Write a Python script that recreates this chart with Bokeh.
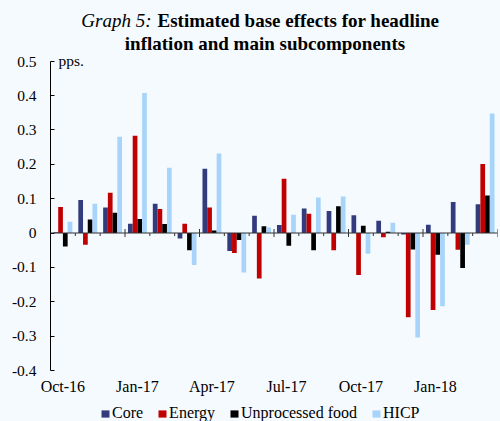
from bokeh.plotting import figure
from bokeh.models import (Range1d, FixedTicker, LinearAxis, Legend, LegendItem,
                          Label, CustomJSTickFormatter, ColumnDataSource, Span)
from bokeh.layouts import column
from bokeh.embed import file_html
from bokeh.resources import INLINE

months = ["Oct-16", "Nov-16", "Dec-16", "Jan-17", "Feb-17", "Mar-17", "Apr-17", "May-17",
          "Jun-17", "Jul-17", "Aug-17", "Sep-17", "Oct-17", "Nov-17", "Dec-17", "Jan-18",
          "Feb-18", "Mar-18"]
core = [0.002, 0.096, 0.074, 0.027, 0.085, -0.016, 0.187, -0.052, 0.050, 0.023, 0.071,
        0.064, 0.052, 0.036, -0.004, 0.024, 0.090, 0.084]
energy = [0.076, -0.034, 0.117, 0.283, 0.070, 0.027, 0.074, -0.058, -0.132, 0.158, 0.056,
          -0.050, -0.122, -0.012, -0.245, -0.224, -0.049, 0.201]
unprocessed_food = [-0.039, 0.039, 0.059, 0.041, 0.026, -0.050, 0.007, -0.020, 0.020, -0.037,
                    -0.050, 0.078, 0.021, 0.004, -0.048, -0.063, -0.102, 0.109]
hicp = [0.033, 0.085, 0.280, 0.407, 0.190, -0.093, 0.231, -0.115, 0.016, 0.053, 0.103,
        0.106, -0.060, 0.030, -0.304, -0.213, -0.034, 0.348]
series_names = ["Core", "Energy", "Unprocessed food", "HICP"]
tick_labels = ["Oct-16", "Jan-17", "Apr-17", "Jul-17", "Oct-17", "Jan-18"]
y_ticks = [-0.4, -0.3, -0.2, -0.1, 0.0, 0.1, 0.2, 0.3, 0.4, 0.5]
title_prefix = "Graph 5:"
title_line1 = "Estimated base effects for headline"
title_line2 = "inflation and main subcomponents"

colors = ["#323C7C", "#C00000", "#000000", "#A9D4FA"]
BG = "#F5FAFF"
FONT = "Liberation Serif"
W = 500
LEFT, RIGHT = 50, 3


def bare_fig(h):
    # pixel-space panel whose frame lines up with the main chart's frame
    f = figure(width=W, height=h, x_range=Range1d(LEFT, W - RIGHT), y_range=Range1d(h, 0),
               output_backend="svg", toolbar_location=None, x_axis_location=None,
               y_axis_location=None, background_fill_color=BG, border_fill_color=BG,
               outline_line_color=None, min_border_left=LEFT, min_border_right=RIGHT,
               min_border_top=0, min_border_bottom=0)
    f.grid.visible = False
    return f


# ---------------- title ----------------
tf = bare_fig(56)
tf.add_layout(Label(x=151, y=20, text=title_prefix, text_align="right",
                    text_baseline="alphabetic", text_font=FONT, text_font_style="italic",
                    text_font_size="19px", text_color="black"))
tf.add_layout(Label(x=157, y=20, text=title_line1, text_align="left",
                    text_baseline="alphabetic", text_font=FONT, text_font_style="bold",
                    text_font_size="19px", text_color="black"))
tf.add_layout(Label(x=264.5, y=43, text=title_line2, text_align="center",
                    text_baseline="alphabetic", text_font=FONT, text_font_style="bold",
                    text_font_size="19px", text_color="black"))

# ---------------- main chart ----------------
n = len(months)
p = figure(width=W, height=342, x_range=Range1d(0, n), y_range=Range1d(-0.4, 0.5135),
           output_backend="svg", toolbar_location=None, x_axis_location=None,
           background_fill_color=BG, border_fill_color=BG, outline_line_color=None,
           min_border_left=LEFT, min_border_right=RIGHT, min_border_top=0, min_border_bottom=28)
p.grid.visible = False

bw = 0.19
sources = []
for k, vals in enumerate([core, energy, unprocessed_food, hicp]):
    xs = [i + 0.5 + (k - 1.5) * bw for i in range(n)]
    src = ColumnDataSource(dict(x=xs, top=vals, month=months))
    p.vbar(x="x", top="top", bottom=0, width=bw, source=src,
           fill_color=colors[k], line_color=None)
    sources.append(src)

ya = p.yaxis[0]
ya.bounds = (-0.4, 0.5)
ya.ticker = FixedTicker(ticks=y_ticks)
ya.formatter = CustomJSTickFormatter(code="return (Math.round(tick*10)/10).toString();")
ya.major_tick_in = 4
ya.major_tick_out = 0
ya.minor_tick_in = 0
ya.minor_tick_out = 0
ya.axis_line_color = "black"
ya.major_tick_line_color = "black"
ya.major_label_text_font = FONT
ya.major_label_text_font_size = "15.5px"
ya.major_label_text_color = "black"
ya.major_label_standoff = 14

# zero line with category boundary ticks
p.add_layout(Span(location=0, dimension="width", line_color="#333333", line_width=1))
px_y = 1 / 343.3
bounds = list(range(n + 1))
big = [b for b in bounds if b % 3 == 0]
small = [b for b in bounds if b % 3 != 0]
p.segment(x0=small, x1=small, y0=[0] * len(small), y1=[-3 * px_y] * len(small),
          line_color="#333333", line_width=1)
p.segment(x0=big, x1=big, y0=[4 * px_y] * len(big), y1=[-4 * px_y] * len(big),
          line_color="#333333", line_width=1)

label_pos = [months.index(t) + 0.5 for t in tick_labels]
axl = LinearAxis(ticker=FixedTicker(ticks=label_pos),
                 major_label_overrides={pos: lab for pos, lab in zip(label_pos, tick_labels)},
                 axis_line_color=None, major_tick_line_color=None, minor_tick_line_color=None,
                 major_tick_in=0, major_tick_out=0, minor_tick_in=0, minor_tick_out=0,
                 major_label_standoff=7, major_label_text_font=FONT,
                 major_label_text_font_size="16px", major_label_text_color="black")
p.add_layout(axl, "below")

p.add_layout(Label(x=0.32, y=0.5 + 0.5 * px_y, text="pps.", text_baseline="alphabetic",
                   text_align="left", text_font=FONT, text_font_size="15.5px",
                   text_color="black"))

# ---------------- legend ----------------
lg = bare_fig(23)
lg_renderers = [lg.vbar(x="x", top="top", bottom=0, width=bw, source=src, fill_color=c,
                        line_color=None, visible=False)
                for src, c in zip(sources, colors)]
legend = Legend(items=[LegendItem(label=nm, renderers=[r]) for nm, r in zip(series_names, lg_renderers)],
                orientation="horizontal", location=(50, -1), glyph_width=10, glyph_height=9,
                label_text_font=FONT, label_text_font_size="16px", label_text_color="black",
                label_standoff=2, spacing=14, padding=0, margin=0, border_line_color=None,
                background_fill_alpha=0, label_height=15, inactive_fill_alpha=0)
lg.add_layout(legend)

layout = column(tf, p, lg, spacing=0)
html = file_html(layout, INLINE)
html = html.replace("</head>",
                    "<style>html, body { background: %s; margin: 0; }</style></head>" % BG, 1)
open("out.html", "w").write(html)
